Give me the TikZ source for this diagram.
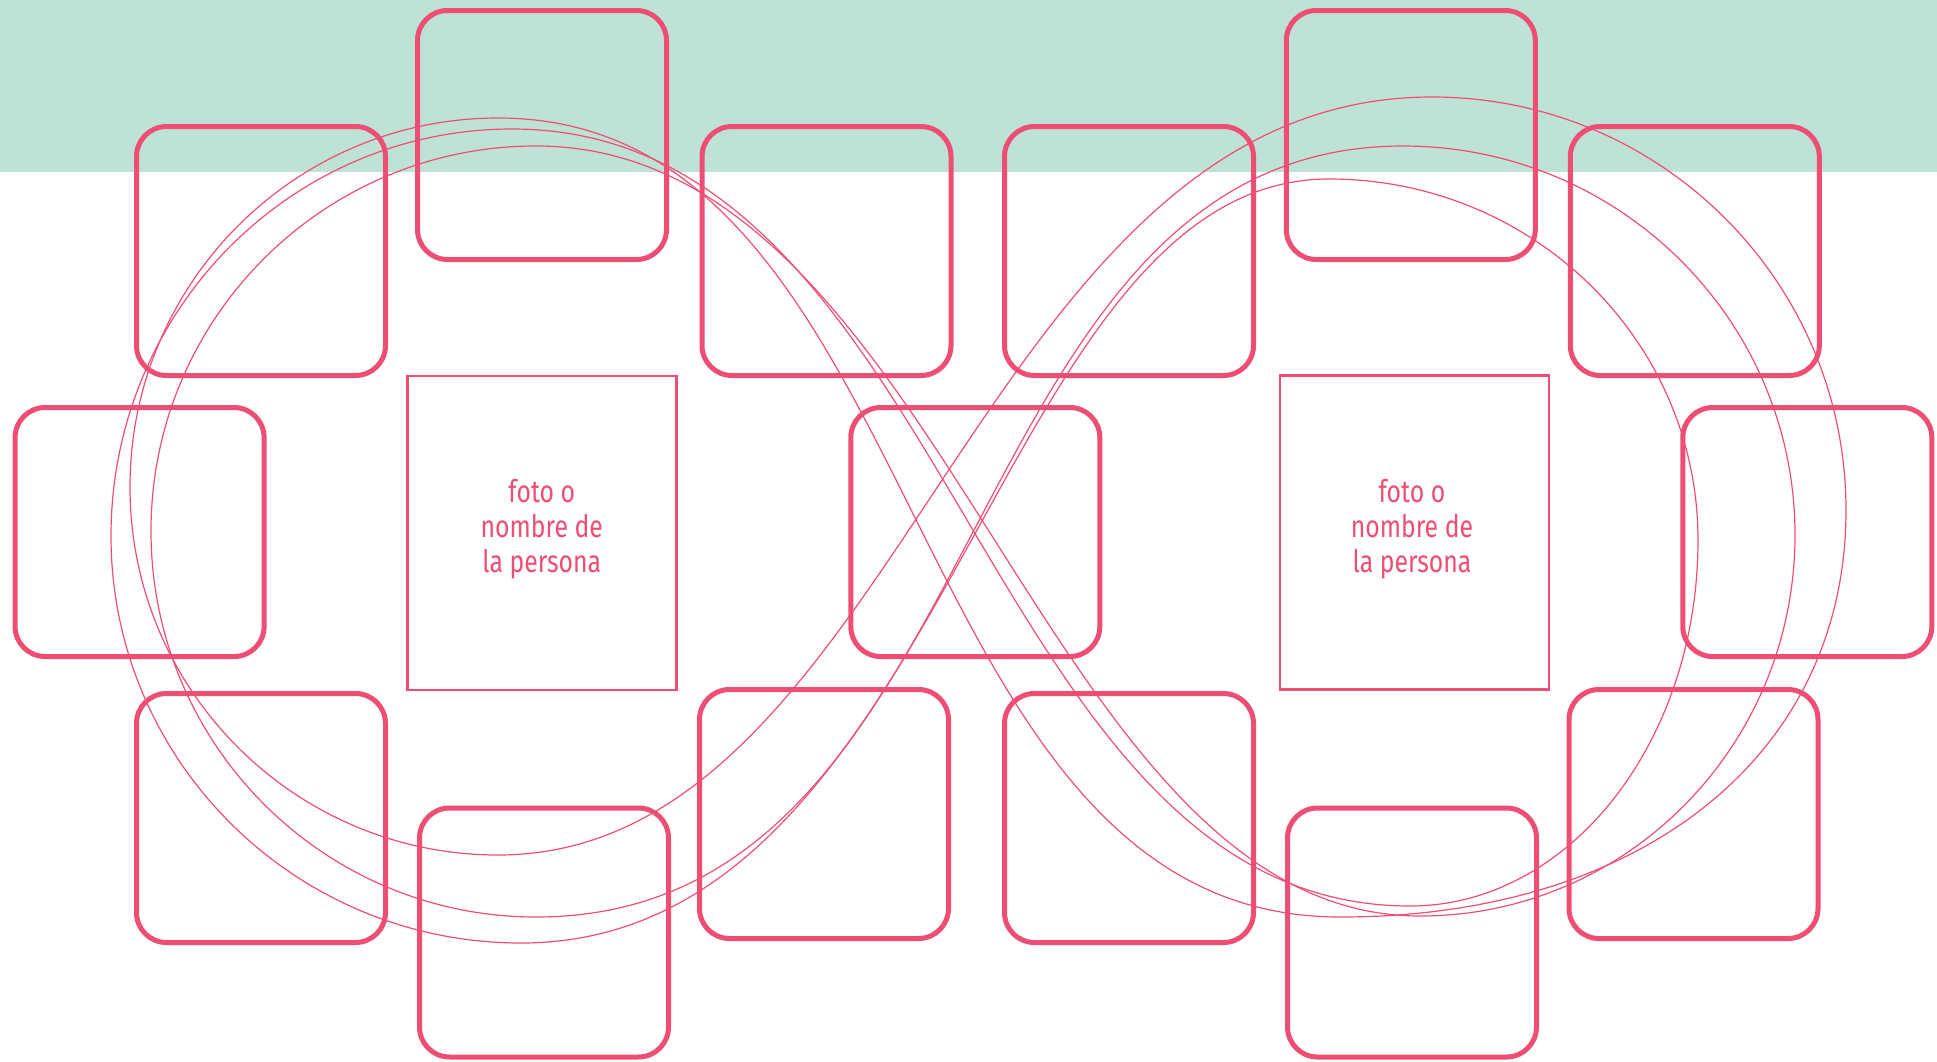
\documentclass[tikz,border=0pt]{standalone}
\usepackage{fontspec}
\newfontfamily\lblfont[FakeStretch=0.8]{Fira Sans}
\definecolor{pk}{HTML}{EF4E74}
\definecolor{mint}{HTML}{BEE2D5}
\begin{document}
\begin{tikzpicture}[x=1pt,y=-1pt,
  rbox/.style={draw=pk, line width=5pt, rounded corners=30pt, minimum width=249pt, minimum height=249pt, inner sep=0pt, outer sep=0pt},
  pbox/.style={draw=pk, line width=2.5pt, minimum width=269pt, minimum height=314pt, inner sep=0pt, outer sep=0pt},
  lbl/.style={text=pk, font=\lblfont\fontsize{31}{35}\selectfont, align=center, inner sep=0pt},
  eight/.style={draw=pk, line width=1.2pt}]
\useasboundingbox (0,0) rectangle (1937,1061);
\fill[mint] (0,0) rectangle (1937,171.7);

% figure-eight curves
\draw[eight] (498,118) .. controls (294.8,118) and (130,283.2) .. (130,487)
 .. controls (130,690.2) and (294.8,855) .. (498,855)
 .. controls (901,855) and (975,97) .. (1432,97)
 .. controls (1660.7,97) and (1846,281.9) .. (1846,510)
 .. controls (1846,754) and (1643.6,917) .. (1340,917)
 .. controls (892,917) and (935,118) .. (498,118) -- cycle;
\draw[eight] (512,129) .. controls (290.5,129) and (111,311.2) .. (111,536)
 .. controls (111,760.8) and (294.6,943) .. (521,943)
 .. controls (951,943) and (992,179) .. (1329,179)
 .. controls (1532.8,179) and (1698,340.6) .. (1698,540)
 .. controls (1698,742.1) and (1569.1,906) .. (1410,906)
 .. controls (978,906) and (956,129) .. (512,129) -- cycle;
\draw[eight] (536,146) .. controls (323.4,146) and (151,318.4) .. (151,531)
 .. controls (151,744.2) and (323.4,917) .. (536,917)
 .. controls (1002,917) and (947,146) .. (1403,146)
 .. controls (1619.5,146) and (1795,320.2) .. (1795,535)
 .. controls (1795,745.4) and (1627.1,916) .. (1420,916)
 .. controls (1039,916) and (946,146) .. (536,146) -- cycle;

% rounded boxes
\node[rbox] (b1) at (261,251) {};
\node[rbox] (b2) at (542,135) {};
\node[rbox] (b3) at (826.5,251) {};
\node[rbox] (b4) at (139.6,532) {};
\node[rbox] (b5) at (261,818) {};
\node[rbox] (b6) at (544,932.5) {};
\node[rbox] (b7) at (824,814) {};
\node[rbox] (b8) at (975.3,532) {};
\node[rbox] (b9) at (1129,251) {};
\node[rbox] (b10) at (1410.8,135) {};
\node[rbox] (b11) at (1694.8,251) {};
\node[rbox] (b12) at (1807.3,532) {};
\node[rbox] (b13) at (1129,818) {};
\node[rbox] (b14) at (1412,932.5) {};
\node[rbox] (b15) at (1693.5,814) {};

% photo boxes
\node[pbox] (p1) at (541.8,532.8) {};
\node[pbox] (p2) at (1414.6,532.7) {};
\node[lbl] (l1) at (541.8,529.5) {foto o\\nombre de\\la persona};
\node[lbl] (l2) at (1412,529.5) {foto o\\nombre de\\la persona};
\end{tikzpicture}
\end{document}
